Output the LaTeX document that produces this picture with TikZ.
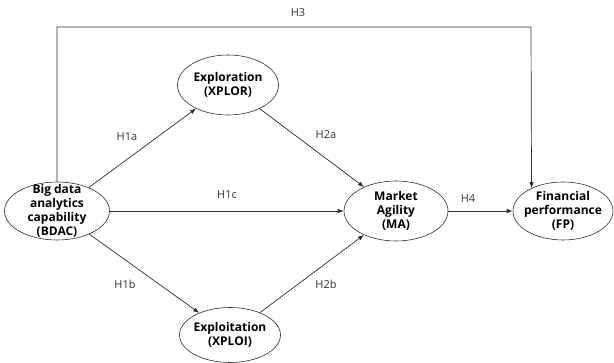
\documentclass[tikz,border=0pt]{standalone}
\usepackage{fontspec}
\setmainfont{Open Sans}
\usetikzlibrary{arrows.meta, shapes.geometric, positioning}
\definecolor{linegray}{HTML}{2E2E2E}
\tikzset{
    construct/.style args={#1 #2}{
        draw=linegray, ellipse, inner sep=0pt, line width=0.6pt,
        minimum width=#1, minimum height=#2
    },
    ctext/.style={align=center, inner sep=0pt,
        font=\bfseries\fontsize{12}{14}\selectfont},
    conn/.style={draw=linegray, line width=0.7pt, -{Latex[length=6pt,width=4.5pt]}},
    hyp/.style={inner sep=1pt, text=black!80, font=\fontsize{11}{13}\selectfont}
}
\begin{document}
\begin{tikzpicture}[x=1pt, y=-1pt]
    \useasboundingbox (0,0) rectangle (614,363);
    % constructs
    \node[construct={105pt 58pt}, label={[ctext]center:{Big data\\analytics\\capability\\(BDAC)}}] (bdac) at (57,211) {};
    \node[construct={101pt 60pt}, label={[ctext]center:{Exploration\\(XPLOR)}}] (xplor) at (228,85) {};
    \node[construct={101pt 55pt}, label={[ctext]center:{Exploitation\\(XPLOI)}}] (xploi) at (230,335) {};
    \node[construct={104pt 60pt}, label={[ctext]center:{Market\\Agility\\(MA)}}] (ma) at (396,211) {};
    \node[construct={100pt 58pt}, label={[ctext]center:{Financial\\performance\\(FP)}}] (fp) at (563,211) {};
    \coordinate (h3turn) at (531,27);
    % paths
    \draw[conn] (bdac) -- (xplor);
    \draw[conn] (bdac) -- (xploi);
    \draw[conn] (bdac) -- (ma);
    \draw[conn] (xplor) -- (ma);
    \draw[conn] (xploi) -- (ma);
    \draw[conn] (ma) -- (fp);
    \draw[conn] (bdac.north) |- (h3turn) -- (fp.144);
    % hypotheses
    \node[hyp] (h1a) at (127,137) {H1a};
    \node[hyp] (h2a) at (326,135) {H2a};
    \node[hyp] (h1c) at (227,195) {H1c};
    \node[hyp] (h1b) at (125,284) {H1b};
    \node[hyp] (h2b) at (326,284) {H2b};
    \node[hyp] (h4) at (468,199) {H4};
    \node[hyp] (h3) at (298,13) {H3};
\end{tikzpicture}
\end{document}
